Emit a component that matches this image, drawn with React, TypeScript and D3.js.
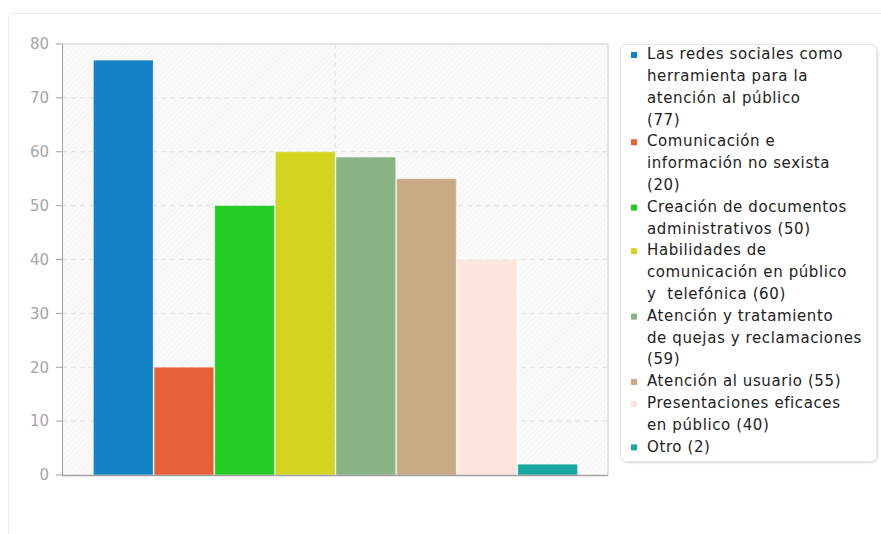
import React from "react";
import * as d3 from "d3";

const categories = [
  ["Las redes sociales como", "herramienta para la", "atención al público", "(77)"],
  ["Comunicación e", "información no sexista", "(20)"],
  ["Creación de documentos", "administrativos (50)"],
  ["Habilidades de", "comunicación en público", "y  telefónica (60)"],
  ["Atención y tratamiento", "de quejas y reclamaciones", "(59)"],
  ["Atención al usuario (55)"],
  ["Presentaciones eficaces", "en público (40)"],
  ["Otro (2)"],
];
const values = [77, 20, 50, 60, 59, 55, 40, 2];
const colors = ["#1582c8", "#e86035", "#22cc22", "#d3d41e", "#88b486", "#c8aa84", "#fbe5dc", "#19a8a0"];
const yTicks = [0, 10, 20, 30, 40, 50, 60, 70, 80];

export default function App() {
  const plotL = 62, plotR = 608, plotT = 44, plotB = 475;
  const y = d3.scaleLinear().domain([0, 80]).range([plotB, plotT]);
  const x = d3.scaleBand<number>().domain(d3.range(values.length)).range([93, 578]).padding(0);
  const bw = x.bandwidth();
  const font = "'DejaVu Sans', Verdana, sans-serif";

  const lineH = 21.8;
  const legendX = 620, legendY = 44, legendW = 256;
  let lineIdx = 0;
  const items = categories.map((lines, i) => {
    const start = lineIdx;
    lineIdx += lines.length;
    return { lines, start, i };
  });
  const legendH = 417;

  return (
    <svg width={881} height={534} style={{ position: "absolute", left: 0, top: 0 }} fontFamily={font}>
      <defs>
        <pattern id="hatch" width="4" height="4" patternUnits="userSpaceOnUse" patternTransform="rotate(45)">
          <rect width="4" height="4" fill="#f7f7f7" />
          <line x1="0" y1="0" x2="0" y2="4" stroke="#ffffff" strokeWidth="1.5" />
        </pattern>
        <filter id="shadow" x="-10%" y="-10%" width="120%" height="120%">
          <feDropShadow dx="1" dy="1" stdDeviation="1.2" floodColor="#000" floodOpacity="0.15" />
        </filter>
      </defs>
      <rect x={0} y={0} width={881} height={534} fill="#fff" />
      <rect x={8.5} y={13.5} width={900} height={600} rx={6} fill="#fff" stroke="#e8e8e8" />

      {/* plot background */}
      <rect x={plotL} y={plotT} width={plotR - plotL} height={plotB - plotT} fill="url(#hatch)" />
      {/* grid */}
      {yTicks.slice(1, -1).map((t) => (
        <line key={t} x1={plotL} x2={plotR} y1={y(t)} y2={y(t)} stroke="#e2e2e2" strokeDasharray="5,4" />
      ))}
      <line x1={(plotL + plotR) / 2} x2={(plotL + plotR) / 2} y1={plotT} y2={plotB} stroke="#e2e2e2" strokeDasharray="5,4" />
      {/* plot border */}
      <line x1={plotL} x2={plotR} y1={plotT} y2={plotT} stroke="#e4e4e4" strokeWidth={2} />
      <line x1={plotR} x2={plotR} y1={plotT} y2={plotB} stroke="#e4e4e4" strokeWidth={2} />

      {/* bars */}
      {values.map((v, i) => (
        <rect key={i} x={(x(i) as number) + 0.5} y={y(v)} width={bw - 1} height={plotB - y(v)} fill={colors[i]}
          stroke="rgba(255,255,255,0.35)" strokeWidth={1} />
      ))}

      {/* axes */}
      <line x1={plotL} x2={plotR} y1={plotB + 0.5} y2={plotB + 0.5} stroke="#a0a0a0" strokeWidth={1.5} />
      <line x1={plotL + 0.5} x2={plotL + 0.5} y1={plotT} y2={plotB} stroke="#a0a0a0" strokeWidth={1} />
      {yTicks.map((t) => (
        <g key={t}>
          <line x1={56} x2={plotL} y1={y(t)} y2={y(t)} stroke="#a0a0a0" />
          <text x={49} y={y(t)} dy="0.35em" textAnchor="end" fontSize={15} fill="#a6a6a6">{t}</text>
        </g>
      ))}

      {/* legend */}
      <rect x={legendX + 0.5} y={legendY + 0.5} width={legendW} height={legendH} rx={6} fill="#fff" stroke="#e4e4e4" filter="url(#shadow)" />
      {items.map(({ lines, start, i }) => (
        <g key={i}>
          <rect x={631} y={legendY + 8 + start * lineH} width={6} height={6} fill={colors[i]} />
          {lines.map((ln, j) => (
            <text key={j} x={647} y={legendY + 10 + (start + j) * lineH} dy="0.35em" fontSize={15} letterSpacing={0.6} fill="#222" style={{ whiteSpace: "pre" }}>
              {ln}
            </text>
          ))}
        </g>
      ))}
    </svg>
  );
}
